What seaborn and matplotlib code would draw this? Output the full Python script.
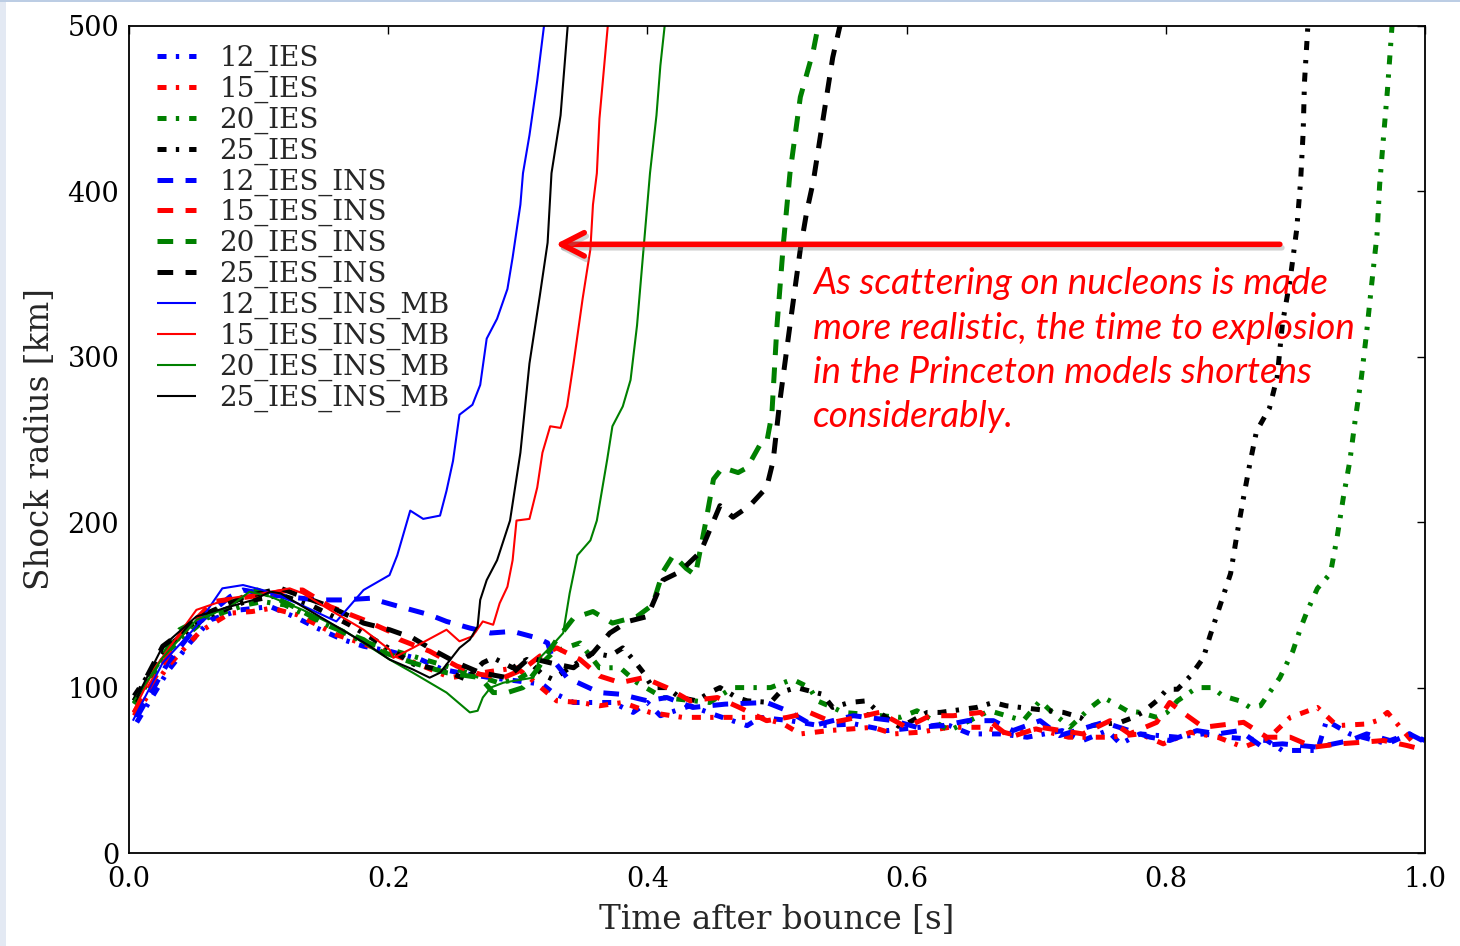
import matplotlib
matplotlib.use("Agg")
import matplotlib.pyplot as plt
import matplotlib.patheffects as pe
from matplotlib.patches import Rectangle
import numpy as np
import seaborn as sns

# ---------------- data (time after bounce [s], shock radius [km]) ----------------
t_12_IES = [0.006, 0.030, 0.047, 0.063, 0.086, 0.109, 0.130, 0.145, 0.165, 0.181, 0.201, 0.225, 0.242, 0.255,
            0.279, 0.300, 0.319, 0.327, 0.343, 0.358, 0.373, 0.389, 0.400, 0.410, 0.433, 0.454, 0.477, 0.487,
            0.510, 0.533, 0.560, 0.585, 0.610, 0.630, 0.649, 0.672, 0.693, 0.720, 0.736, 0.755, 0.765, 0.780,
            0.809, 0.829, 0.847, 0.878, 0.890, 0.917, 0.924, 0.942, 0.971, 0.988, 1.000]
r_12_IES = [79, 110, 127, 141, 147, 149, 142, 136, 129, 125, 122, 117, 111, 109,
            106, 104, 102, 97, 91, 91, 91, 85, 91, 83, 89, 83, 77, 82,
            80, 77, 78, 74, 76, 78, 72, 72, 70, 74, 68, 74, 66, 72,
            70, 72, 70, 68, 62, 62, 80, 72, 66, 72, 68]

t_15_IES = [0.004, 0.030, 0.055, 0.078, 0.095, 0.110, 0.130, 0.160, 0.190, 0.201, 0.227, 0.248, 0.265, 0.281,
            0.299, 0.312, 0.330, 0.348, 0.363, 0.381, 0.402, 0.427, 0.454, 0.487, 0.505, 0.518, 0.540, 0.574,
            0.590, 0.610, 0.633, 0.659, 0.680, 0.700, 0.725, 0.757, 0.780, 0.798, 0.819, 0.840, 0.860, 0.880,
            0.896, 0.917, 0.932, 0.955, 0.963, 0.971, 0.994]
r_15_IES = [83, 113, 134, 145, 146, 148, 144, 132, 124, 121, 113, 106, 108, 110,
            112, 104, 92, 91, 89, 91, 85, 82, 82, 82, 78, 72, 74, 76,
            72, 73, 76, 76, 72, 75, 70, 70, 72, 66, 73, 70, 64, 70,
            82, 88, 77, 78, 80, 85, 64]

t_20_IES = [0.004, 0.030, 0.060, 0.090, 0.103, 0.120, 0.150, 0.180, 0.219, 0.245, 0.265, 0.285, 0.300, 0.315,
            0.327, 0.333, 0.348, 0.363, 0.379, 0.392, 0.412, 0.448, 0.466, 0.474, 0.495, 0.512, 0.525, 0.531,
            0.543, 0.551, 0.595, 0.608, 0.633, 0.664, 0.690, 0.703, 0.711, 0.726, 0.742, 0.752, 0.759, 0.770,
            0.780, 0.793, 0.801, 0.809, 0.824, 0.836, 0.844, 0.857, 0.865, 0.873, 0.880, 0.888, 0.898, 0.904,
            0.909, 0.917, 0.927, 0.932, 0.937, 0.942, 0.946, 0.951, 0.955, 0.959, 0.963, 0.965, 0.968, 0.971,
            0.975]
r_20_IES = [90, 122, 142, 150, 152, 150, 139, 128, 119, 113, 108, 103, 105, 112,
            121, 123, 127, 112, 112, 103, 94, 91, 100, 100, 100, 105, 100, 92,
            88, 85, 82, 86, 74, 86, 80, 92, 86, 76, 88, 94, 91, 86,
            85, 82, 85, 92, 100, 100, 95, 92, 88, 89, 97, 106, 122, 136,
            146, 160, 169, 190, 215, 237, 261, 288, 315, 345, 374, 404, 433, 461,
            505]

t_25_IES = [0.004, 0.030, 0.060, 0.090, 0.117, 0.140, 0.170, 0.200, 0.220, 0.245, 0.260, 0.273, 0.281, 0.296,
            0.307, 0.319, 0.327, 0.340, 0.358, 0.371, 0.381, 0.389, 0.397, 0.404, 0.415, 0.425, 0.438, 0.448,
            0.456, 0.469, 0.477, 0.495, 0.502, 0.515, 0.535, 0.543, 0.556, 0.569, 0.577, 0.595, 0.616, 0.626,
            0.654, 0.667, 0.677, 0.721, 0.734, 0.742, 0.765, 0.775, 0.782, 0.793, 0.801, 0.809, 0.819, 0.829,
            0.834, 0.842, 0.850, 0.855, 0.860, 0.865, 0.870, 0.880, 0.886, 0.890, 0.896, 0.901, 0.904, 0.906,
            0.907, 0.910]
r_25_IES = [95, 125, 143, 152, 156, 150, 138, 124, 114, 110, 105, 115, 118, 112,
            117, 108, 105, 112, 121, 119, 124, 117, 109, 100, 100, 94, 92, 97,
            100, 94, 92, 91, 97, 100, 96, 88, 91, 92, 86, 76, 85, 85,
            88, 91, 89, 85, 82, 77, 79, 82, 85, 92, 99, 99, 107, 118,
            131, 150, 169, 193, 215, 236, 255, 269, 288, 320, 347, 377, 406, 436,
            466, 505]

t_12_IES_INS = [0.006, 0.030, 0.055, 0.078, 0.088, 0.110, 0.145, 0.165, 0.186, 0.204, 0.232, 0.245, 0.263, 0.279,
                0.296, 0.315, 0.323, 0.327, 0.338, 0.363, 0.379, 0.400, 0.415, 0.435, 0.460, 0.492, 0.508, 0.528,
                0.543, 0.559, 0.590, 0.608, 0.628, 0.647, 0.667, 0.682, 0.703, 0.718, 0.752, 0.788, 0.803, 0.824,
                0.840, 0.857, 0.873, 0.890, 0.917, 0.942, 0.955, 0.973, 0.988, 0.998]
r_12_IES_INS = [82, 115, 140, 155, 159, 156, 153, 153, 154, 150, 144, 140, 136, 133,
                134, 130, 127, 117, 106, 97, 96, 92, 94, 88, 90, 91, 86, 77,
                80, 83, 80, 76, 77, 80, 80, 74, 80, 71, 79, 70, 68, 74,
                72, 74, 65, 66, 64, 68, 72, 68, 72, 68]

t_15_IES_INS = [0.004, 0.039, 0.065, 0.103, 0.124, 0.134, 0.155, 0.181, 0.201, 0.209, 0.232, 0.253, 0.271, 0.289,
                0.304, 0.317, 0.330, 0.348, 0.363, 0.379, 0.397, 0.415, 0.433, 0.454, 0.471, 0.492, 0.508, 0.525,
                0.543, 0.562, 0.579, 0.600, 0.618, 0.636, 0.657, 0.670, 0.680, 0.703, 0.736, 0.757, 0.772, 0.793,
                0.803, 0.813, 0.829, 0.860, 0.878, 0.896, 0.914, 0.934, 0.952, 0.968, 0.986, 0.996]
r_15_IES_INS = [85, 131, 152, 156, 159, 159, 149, 141, 134, 129, 122, 113, 108, 106,
                111, 119, 124, 117, 107, 103, 106, 100, 92, 94, 88, 80, 82, 85,
                79, 82, 85, 76, 83, 83, 85, 76, 70, 76, 72, 80, 72, 79,
                91, 85, 76, 79, 70, 70, 64, 66, 67, 68, 65, 63]

t_20_IES_INS = [0.004, 0.039, 0.078, 0.099, 0.122, 0.155, 0.181, 0.194, 0.219, 0.245, 0.271, 0.281, 0.292, 0.304,
                0.315, 0.330, 0.343, 0.358, 0.373, 0.392, 0.404, 0.412, 0.420, 0.430, 0.437, 0.445, 0.451, 0.458,
                0.470, 0.477, 0.487, 0.492, 0.496, 0.500, 0.505, 0.510, 0.518, 0.528, 0.533]
r_20_IES_INS = [92, 135, 151, 159, 151, 137, 129, 122, 115, 109, 106, 97, 97, 100,
                111, 129, 142, 146, 139, 143, 150, 170, 180, 172, 168, 200, 226, 233,
                230, 233, 247, 248, 265, 319, 369, 411, 457, 485, 505]

t_25_IES_INS = [0.004, 0.026, 0.060, 0.090, 0.117, 0.134, 0.155, 0.181, 0.201, 0.219, 0.234, 0.253, 0.271, 0.292,
                0.309, 0.325, 0.343, 0.358, 0.371, 0.385, 0.400, 0.412, 0.425, 0.441, 0.456, 0.466, 0.479, 0.492,
                0.497, 0.502, 0.510, 0.518, 0.523, 0.528, 0.535, 0.543, 0.550]
r_25_IES_INS = [92, 125, 145, 155, 160, 155, 149, 139, 135, 130, 123, 115, 109, 106,
                118, 115, 112, 121, 133, 140, 143, 165, 170, 182, 210, 203, 210, 221,
                237, 272, 319, 365, 388, 406, 441, 481, 505]

t_12_IES_INS_MB = [0.003, 0.026, 0.052, 0.072, 0.088, 0.103, 0.130, 0.160, 0.181, 0.201, 0.207, 0.217, 0.227, 0.240,
                   0.245, 0.250, 0.255, 0.265, 0.271, 0.276, 0.284, 0.292, 0.296, 0.302, 0.304, 0.309, 0.315, 0.321]
r_12_IES_INS_MB = [80, 115, 137, 160, 162, 159, 151, 140, 159, 168, 180, 207, 202, 204,
                   219, 237, 265, 271, 283, 311, 323, 341, 360, 392, 411, 434, 467, 505]

t_15_IES_INS_MB = [0.003, 0.020, 0.052, 0.078, 0.103, 0.124, 0.134, 0.155, 0.181, 0.201, 0.204, 0.219, 0.245, 0.255,
                   0.265, 0.273, 0.281, 0.286, 0.292, 0.296, 0.299, 0.309, 0.315, 0.319, 0.325, 0.333, 0.338, 0.343,
                   0.350, 0.356, 0.358, 0.361, 0.363, 0.370]
r_15_IES_INS_MB = [85, 112, 147, 154, 157, 160, 157, 147, 135, 123, 118, 124, 135, 128,
                   131, 140, 138, 151, 161, 177, 201, 202, 221, 242, 258, 257, 270, 296,
                   335, 365, 392, 411, 444, 505]

t_20_IES_INS_MB = [0.003, 0.026, 0.052, 0.078, 0.093, 0.109, 0.134, 0.165, 0.201, 0.219, 0.245, 0.263, 0.269, 0.273,
                   0.279, 0.289, 0.304, 0.312, 0.317, 0.327, 0.335, 0.340, 0.346, 0.356, 0.361, 0.369, 0.373, 0.381,
                   0.387, 0.392, 0.397, 0.402, 0.407, 0.410, 0.414]
r_20_IES_INS_MB = [91, 118, 141, 149, 158, 155, 147, 135, 117, 109, 97, 85, 86, 94,
                   100, 103, 105, 106, 118, 126, 133, 157, 180, 189, 201, 238, 258, 270,
                   286, 319, 365, 411, 446, 476, 505]

t_25_IES_INS_MB = [0.006, 0.026, 0.052, 0.078, 0.096, 0.109, 0.117, 0.134, 0.160, 0.186, 0.201, 0.219, 0.232, 0.240,
                   0.248, 0.255, 0.263, 0.269, 0.271, 0.276, 0.284, 0.294, 0.302, 0.309, 0.317, 0.323, 0.326, 0.333,
                   0.339]
r_25_IES_INS_MB = [94, 125, 143, 149, 153, 158, 157, 149, 137, 125, 117, 111, 106, 109,
                   117, 124, 129, 137, 153, 165, 177, 201, 242, 296, 337, 369, 411, 446,
                   505]

series_names = ["12_IES", "15_IES", "20_IES", "25_IES",
                "12_IES_INS", "15_IES_INS", "20_IES_INS", "25_IES_INS",
                "12_IES_INS_MB", "15_IES_INS_MB", "20_IES_INS_MB", "25_IES_INS_MB"]
series_t = [t_12_IES, t_15_IES, t_20_IES, t_25_IES,
            t_12_IES_INS, t_15_IES_INS, t_20_IES_INS, t_25_IES_INS,
            t_12_IES_INS_MB, t_15_IES_INS_MB, t_20_IES_INS_MB, t_25_IES_INS_MB]
series_r = [r_12_IES, r_15_IES, r_20_IES, r_25_IES,
            r_12_IES_INS, r_15_IES_INS, r_20_IES_INS, r_25_IES_INS,
            r_12_IES_INS_MB, r_15_IES_INS_MB, r_20_IES_INS_MB, r_25_IES_INS_MB]

x_ticks = [0.0, 0.2, 0.4, 0.6, 0.8, 1.0]
y_ticks = [0, 100, 200, 300, 400, 500]
annotation = ("As scattering on nucleons is made\n"
              "more realistic, the time to explosion\n"
              "in the Princeton models shortens\n"
              "considerably.")

# ---------------- styling ----------------
sns.set_theme(style="white")
plt.rcParams["font.family"] = ["DejaVu Serif"]
plt.rcParams["lines.scale_dashes"] = False

colors = {"12": "#0000ff", "15": "#ff0000", "20": "#008000", "25": "#000000"}
dashdot = (0, (6.5, 6.7, 2.4, 7.2))
dashed = (0, (11.3, 8.9))

fig = plt.figure(figsize=(14.6, 9.46), dpi=100)
fig.patch.set_facecolor("white")
ax = fig.add_axes([129 / 1460, 1 - 853 / 946, (1425 - 129) / 1460, (853 - 26) / 946])

for name, t, r in zip(series_names, series_t, series_r):
    mass = name.split("_")[0]
    if name.endswith("_MB"):
        ls, lw = "-", 1.5
    elif name.endswith("_INS"):
        ls, lw = dashed, 3.6
    else:
        ls, lw = dashdot, 3.6
    sns.lineplot(x=t, y=r, ax=ax, color=colors[mass], linestyle=ls, linewidth=lw,
                 label=name, estimator=None, sort=False, solid_capstyle="butt", dash_capstyle="butt")

ax.set_xlim(0, 1.0)
ax.set_ylim(0, 500)
ax.set_xticks(x_ticks)
ax.set_xticklabels([f"{v:.1f}" for v in x_ticks])
ax.set_yticks(y_ticks)
ax.set_yticklabels([str(v) for v in y_ticks])
ax.tick_params(axis="both", which="major", direction="in", length=5.5, width=1.0,
               labelsize=19.5, pad=7, top=True, right=True, colors="black")
ax.tick_params(axis="x", pad=9)
for sp in ax.spines.values():
    sp.set_visible(True)
    sp.set_color("black")
    sp.set_linewidth(1.3)
ax.grid(False)
ax.set_xlabel("Time after bounce [s]", fontsize=23.5, labelpad=8)
ax.set_ylabel("Shock radius [km]", fontsize=23.5, labelpad=8)

leg = ax.legend(loc="upper left", bbox_to_anchor=(7 / 1296, 1 + 2 / 827), frameon=False, fontsize=20,
                handlelength=1.4, handletextpad=0.85, labelspacing=0.13, borderaxespad=0.35, borderpad=0.4)

# arrow + annotation
ax.annotate("", xy=(0.329, 368), xytext=(0.888, 368),
            arrowprops=dict(arrowstyle="->,head_length=0.82,head_width=0.42", color="#ff0000",
                            lw=4, shrinkA=0, shrinkB=0, mutation_scale=20,
                            path_effects=[pe.SimpleLineShadow(offset=(1.5, -2.5), shadow_color="gray", alpha=0.35),
                                          pe.Normal()]))
ax.text(0.528, 354, annotation, color="#ff0000", fontstyle="italic", family=["Lato", "DejaVu Sans"],
        fontsize=26.5, linespacing=1.415, va="top", ha="left")

# slide border decoration
fig.patches.append(Rectangle((0, 0), 6 / 1460, 1, transform=fig.transFigure,
                             facecolor="#e3e9f3", edgecolor="none", zorder=-1))
fig.patches.append(Rectangle((0, 1 - 2 / 946), 1, 2 / 946, transform=fig.transFigure,
                             facecolor="#bccde4", edgecolor="none", zorder=-1))

fig.savefig("out.png", dpi=100)
